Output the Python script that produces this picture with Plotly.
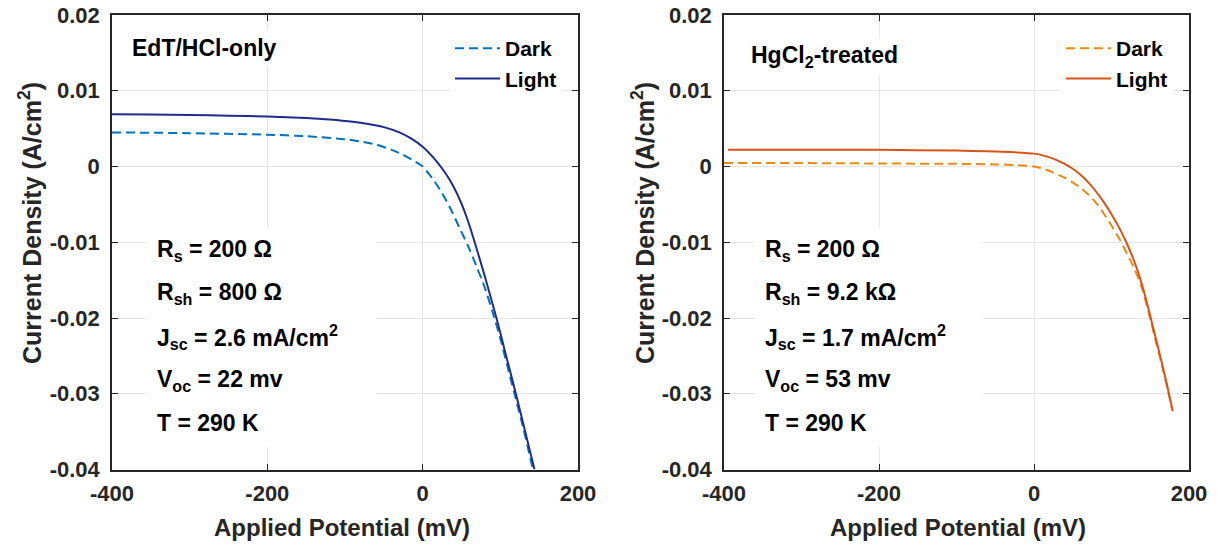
import plotly.graph_objects as go

# ---------------- data ----------------
edt_light_v = [-400, -350, -300, -250, -200, -150, -120, -90, -70, -50, -30, -15, 0, 10, 20, 30,
               40, 50, 58, 67, 80, 95, 108, 120, 132, 144]
edt_light_j = [0.0069, 0.00685, 0.0068, 0.0067, 0.0066, 0.0064, 0.0062, 0.0059, 0.0056, 0.0052,
               0.0045, 0.0037, 0.0026, 0.0016, 0.0004, -0.0010, -0.0027, -0.0049, -0.0071, -0.0100,
               -0.0145, -0.0200, -0.0252, -0.0300, -0.0350, -0.0400]

edt_dark_v = [-400, -300, -200, -150, -100, -80, -60, -40, -26, -12, 0, 12, 25, 36, 47, 58, 69,
              80, 90, 100, 110, 120, 130, 142]
edt_dark_j = [0.0045, 0.0044, 0.0042, 0.0040, 0.0036, 0.0033, 0.0029, 0.0022, 0.0016, 0.0008,
              0.0000, -0.0015, -0.0035, -0.0056, -0.0080, -0.0104, -0.0131, -0.0160, -0.0192,
              -0.0227, -0.0267, -0.0307, -0.0347, -0.0400]

hg_light_v = [-395, -300, -200, -100, -60, -30, 0, 10, 20, 30, 40, 50, 60, 70, 80, 90, 100, 111,
              120, 130, 140, 148, 156, 164, 172, 179]
hg_light_j = [0.0022, 0.0022, 0.0022, 0.0021, 0.0020, 0.0019, 0.0017, 0.0015, 0.0012, 0.0008,
              0.0003, -0.0003, -0.0011, -0.0021, -0.0033, -0.0047, -0.0063, -0.0083, -0.0102,
              -0.0127, -0.0158, -0.0189, -0.0222, -0.0255, -0.0290, -0.0323]

hg_dark_v = [-400, -300, -200, -100, -50, -20, 0, 12, 25, 40, 50, 60, 70, 80, 90, 100, 111, 120,
             130, 140, 148, 156, 164, 172, 178]
hg_dark_j = [0.00045, 0.00045, 0.0004, 0.00035, 0.00028, 0.00018, 0.0000, -0.0003, -0.0008,
             -0.0015, -0.0021, -0.0028, -0.0037, -0.0048, -0.0062, -0.0078, -0.0097, -0.0115,
             -0.0136, -0.0163, -0.0193, -0.0226, -0.0258, -0.0292, -0.0320]

x_tickvals = [-400, -200, 0, 200]
x_ticktext = ["-400", "-200", "0", "200"]
y_tickvals = [-0.04, -0.03, -0.02, -0.01, 0, 0.01, 0.02]
y_ticktext = ["-0.04", "-0.03", "-0.02", "-0.01", "0", "0.01", "0.02"]

panel_titles = ["EdT/HCl-only", "HgCl<sub>2</sub>-treated"]
left_params = ["R<sub>s</sub> = 200 \u03a9", "R<sub>sh</sub> = 800 \u03a9",
               "J<sub>sc</sub> = 2.6 mA/cm<sup>2</sup>", "V<sub>oc</sub> = 22 mv", "T = 290 K"]
right_params = ["R<sub>s</sub> = 200 \u03a9", "R<sub>sh</sub> = 9.2 k\u03a9",
                "J<sub>sc</sub> = 1.7 mA/cm<sup>2</sup>", "V<sub>oc</sub> = 53 mv", "T = 290 K"]
x_title = "Applied Potential (mV)"
y_title = "Current Density (A/cm<sup>2</sup>)"

# ---------------- styling ----------------
FONT = "Liberation Sans, Arial, sans-serif"
W, H = 1217, 548
AX_COL = "#262626"
GRID = "#E5E5E5"

fig = go.Figure()

fig.add_trace(go.Scatter(x=edt_dark_v, y=edt_dark_j, mode="lines", name="Dark",
                         line=dict(color="#0072BD", width=2, dash="9px,5px", shape="spline", smoothing=0.6),
                         xaxis="x", yaxis="y", legend="legend"))
fig.add_trace(go.Scatter(x=edt_light_v, y=edt_light_j, mode="lines", name="Light",
                         line=dict(color="#1F2C8E", width=2, shape="spline", smoothing=0.6),
                         xaxis="x", yaxis="y", legend="legend"))
fig.add_trace(go.Scatter(x=hg_dark_v, y=hg_dark_j, mode="lines", name="Dark",
                         line=dict(color="#EA8A12", width=2, dash="9px,5px", shape="spline", smoothing=0.6),
                         xaxis="x2", yaxis="y2", legend="legend2"))
fig.add_trace(go.Scatter(x=hg_light_v, y=hg_light_j, mode="lines", name="Light",
                         line=dict(color="#D95319", width=2, shape="spline", smoothing=0.6),
                         xaxis="x2", yaxis="y2", legend="legend2"))

ydom = [1 - 469.5 / H, 1 - 15 / H]
xdom1 = [112 / W, 578 / W]
xdom2 = [724 / W, 1189 / W]

tickfont = dict(family=FONT, size=22, color="#262626", weight="bold")
titlefont = dict(family=FONT, size=24, color="#262626", weight="bold")


def xax(dom, anchor):
    return dict(domain=dom, anchor=anchor, range=[-400, 200], tickvals=x_tickvals, ticktext=x_ticktext,
                showgrid=True, gridcolor=GRID, gridwidth=1, zeroline=False,
                showline=True, linecolor=AX_COL, linewidth=1.5, mirror="ticks",
                ticks="inside", ticklen=6, tickcolor=AX_COL, tickwidth=1,
                tickfont=tickfont, ticklabelstandoff=3, automargin=False)


def yax(anchor):
    return dict(domain=ydom, anchor=anchor, range=[-0.04, 0.02], tickvals=y_tickvals, ticktext=y_ticktext,
                showgrid=True, gridcolor=GRID, gridwidth=1, zeroline=False,
                showline=True, linecolor=AX_COL, linewidth=1.5, mirror="ticks",
                ticks="inside", ticklen=6, tickcolor=AX_COL, tickwidth=1,
                tickfont=tickfont, ticklabelstandoff=6, automargin=False)


legfont = dict(family=FONT, size=21, color="#000000", weight="bold")

fig.update_layout(
    width=W, height=H,
    margin=dict(l=0, r=0, t=0, b=0, autoexpand=False),
    paper_bgcolor="white", plot_bgcolor="white",
    xaxis=xax(xdom1, "y"), yaxis=yax("x"),
    xaxis2=xax(xdom2, "y2"), yaxis2=yax("x2"),
    legend=dict(x=450 / W, y=1 - 28 / H, xanchor="left", yanchor="top", bgcolor="white",
                font=legfont, itemwidth=45, tracegroupgap=0, borderwidth=0),
    legend2=dict(x=1061 / W, y=1 - 28 / H, xanchor="left", yanchor="top", bgcolor="white",
                 font=legfont, itemwidth=45, tracegroupgap=0, borderwidth=0),
    showlegend=True,
)

# white boxes behind the parameter text (cover gridlines, stay under the curves)
box_specs = [("x", "y", -356, -60), ("x2", "y2", -360, -66)]
for xr, yr, x0, x1 in box_specs:
    fig.add_shape(type="rect", xref=xr, yref=yr, x0=x0, x1=x1, y0=-0.0370, y1=-0.0080,
                  fillcolor="white", line=dict(width=0), layer="between")

annfont = dict(family=FONT, size=23, color="#000000", weight="bold")
line_y = [0.481, 0.388, 0.292, 0.195, 0.103]

for xr, yr, x0, texts in [("x domain", "y domain", 0.0923, left_params),
                          ("x2 domain", "y2 domain", 0.0839, right_params)]:
    for t, yy in zip(texts, line_y):
        fig.add_annotation(text=t, xref=xr, yref=yr, x=x0, y=yy, xanchor="left", yanchor="middle",
                           showarrow=False, font=annfont)

# panel titles
fig.add_annotation(text=panel_titles[0], xref="x domain", yref="y domain", x=0.032, y=0.927,
                   xanchor="left", yanchor="middle", showarrow=False, font=dict(annfont, size=23),
                   bgcolor="white", borderpad=4)
fig.add_annotation(text=panel_titles[1], xref="x2 domain", yref="y2 domain", x=0.047, y=0.908,
                   xanchor="left", yanchor="middle", showarrow=False, font=dict(annfont, size=23),
                   bgcolor="white", borderpad=4)

# axis titles
for xp in [342 / W, 958 / W]:
    fig.add_annotation(text=x_title, xref="paper", yref="paper", x=xp, y=1 - 527 / H,
                       xanchor="center", yanchor="middle", showarrow=False, font=titlefont)
for xp in [30 / W, 643 / W]:
    fig.add_annotation(text=y_title, xref="paper", yref="paper", x=xp, y=1 - 223 / H,
                       xanchor="center", yanchor="middle", textangle=-90, showarrow=False,
                       font=dict(titlefont, size=25))

fig.write_html("out.html")
